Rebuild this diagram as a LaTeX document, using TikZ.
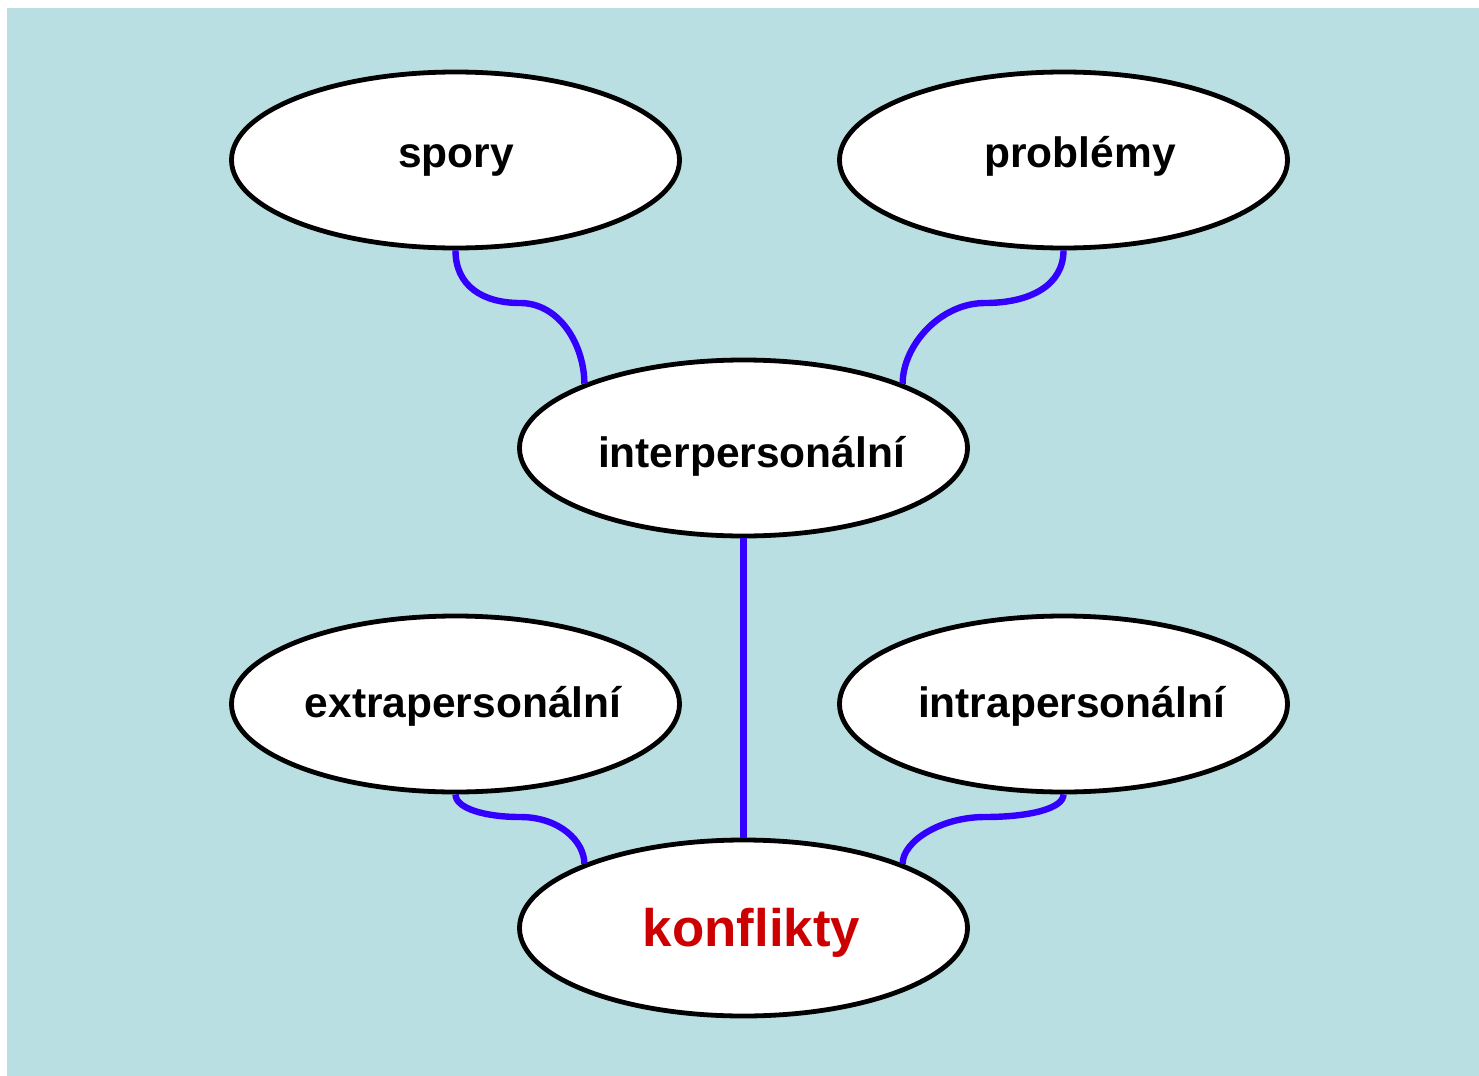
\documentclass[tikz,border=0pt]{standalone}
\usepackage{fontspec}
\setmainfont{Liberation Sans}
\usetikzlibrary{shapes.geometric}
\definecolor{bgblue}{HTML}{BADFE3}
\definecolor{linkblue}{HTML}{3300FF}
\definecolor{keyred}{HTML}{CC0000}
\begin{document}
\begin{tikzpicture}[x=0.5pt,y=-0.5pt,
  bubble/.style={ellipse,draw=black,fill=white,line width=2.4pt,
    minimum width=224pt,minimum height=88pt,inner sep=0pt},
  word/.style={anchor=base,inner sep=0pt,font=\fontsize{21.25pt}{24pt}\selectfont\bfseries},
  link/.style={draw=linkblue,line width=3.2pt}]
  % canvas
  \useasboundingbox (0,0) rectangle (1479,1076);
  \fill[bgblue] (7,8) rectangle (1479,1076);

  % bubbles
  \node[bubble] (spory) at (455.5,160) {};
  \node[bubble] (problemy) at (1063.5,160) {};
  \node[bubble] (inter) at (743.5,448) {};
  \node[bubble] (extra) at (455.5,704) {};
  \node[bubble] (intra) at (1063.5,704) {};
  \node[bubble] (konf) at (743.5,928) {};

  % labels
  \node[word] (spory-t) at (456,167) {spory};
  \node[word] (problemy-t) at (1080,167) {problémy};
  \node[word] (inter-t) at (751.5,467) {interpersonální};
  \node[word] (extra-t) at (463,717) {extrapersonální};
  \node[word] (intra-t) at (1071.5,717) {intrapersonální};
  \node[word,text=keyred,font=\fontsize{26.4pt}{30pt}\selectfont\bfseries] (konf-t) at (751.5,946) {konflikty};

  % bends of the links
  \coordinate (b1) at (520,303);
  \coordinate (b2) at (985,303);
  \coordinate (b3) at (520,817);
  \coordinate (b4) at (985,817);

  % links
  \draw[link] (spory.south) .. controls +(0,35) and +(-38,0) .. (b1)
                            .. controls +(40,0) and +(0,-38) .. (inter.158);
  \draw[link] (problemy.south) .. controls +(0,35) and +(45,0) .. (b2)
                               .. controls +(-45,0) and +(0,-38) .. (inter.22);
  \draw[link] (inter.south) -- (konf.north);
  \draw[link] (extra.south) .. controls +(0,14) and +(-35,0) .. (b3)
                            .. controls +(40,0) and +(0,-22) .. (konf.158);
  \draw[link] (intra.south) .. controls +(0,14) and +(45,0) .. (b4)
                            .. controls +(-45,0) and +(0,-22) .. (konf.22);
\end{tikzpicture}
\end{document}
